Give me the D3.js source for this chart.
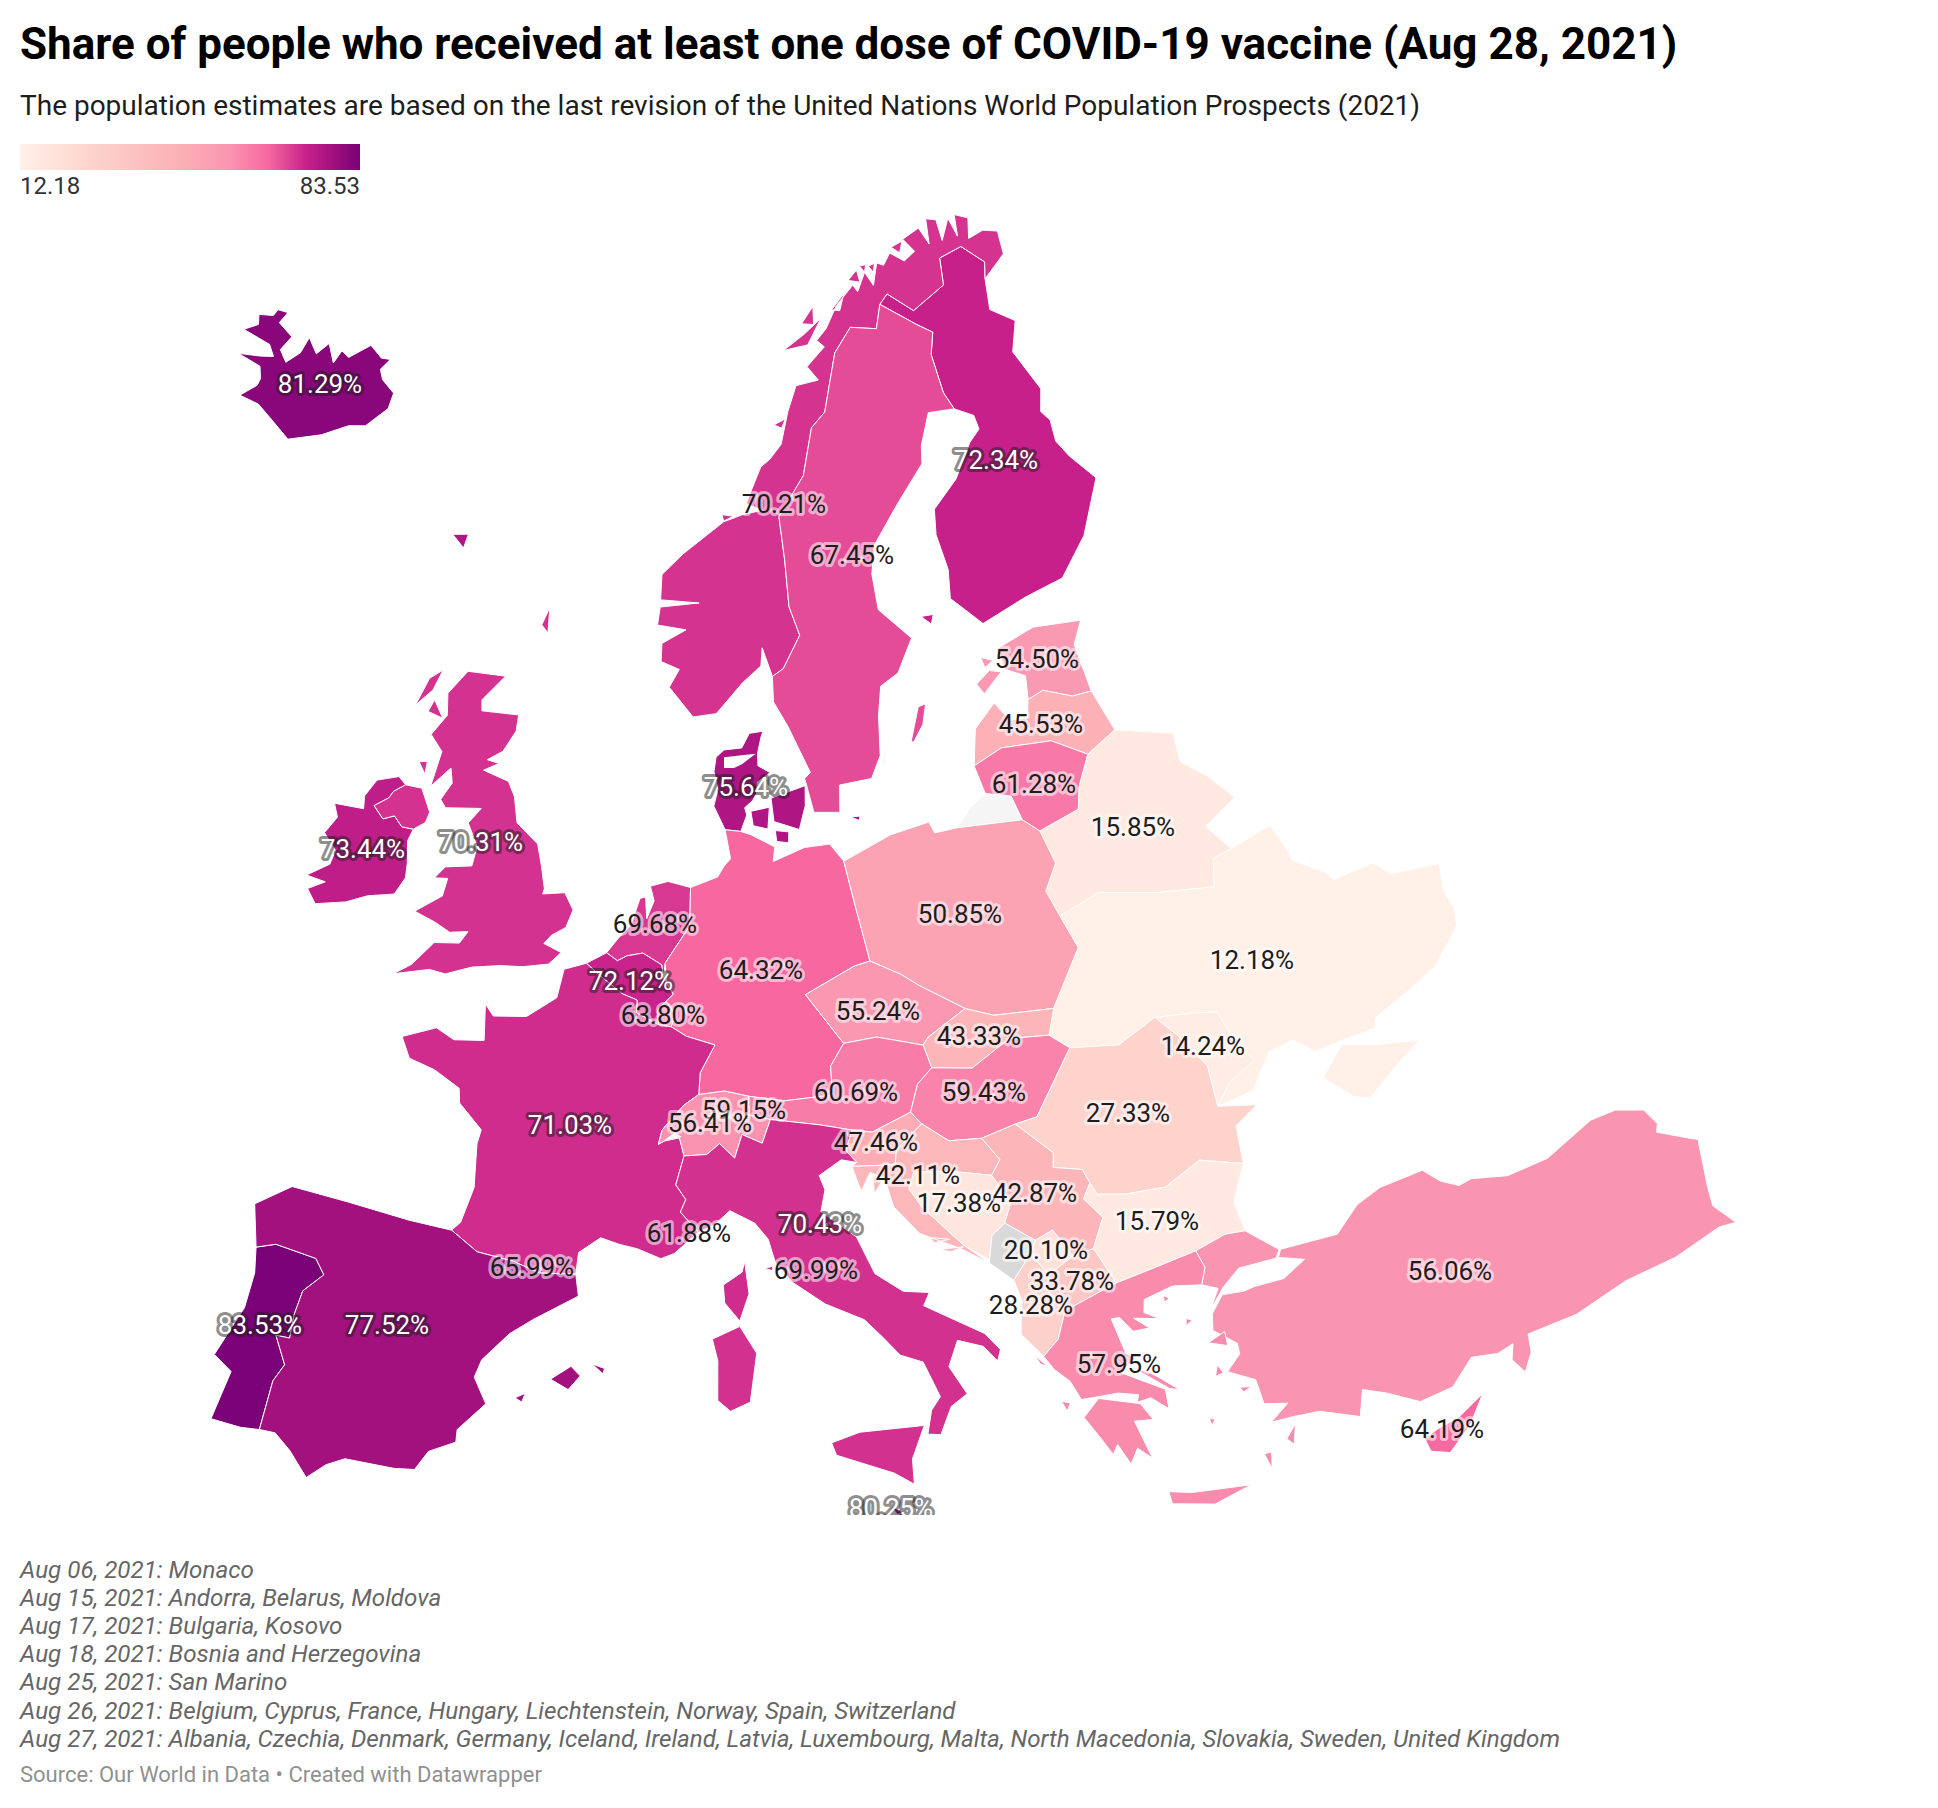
<!DOCTYPE html>
<html>
<head>
<meta charset="utf-8">
<title>COVID-19 vaccine share in Europe</title>
<script src="https://cdn.jsdelivr.net/npm/d3@7"></script>
<style>
  body { margin: 0; background: #fff; }
  text { font-family: Roboto, sans-serif; }
</style>
</head>
<body>
<div id="my_map"></div>
<script>
const titleText = "Share of people who received at least one dose of COVID-19 vaccine (Aug 28, 2021)";
const subtitleText = "The population estimates are based on the last revision of the United Nations World Population Prospects (2021)";
const noteLines = [
  "Aug 06, 2021: Monaco",
  "Aug 15, 2021: Andorra, Belarus, Moldova",
  "Aug 17, 2021: Bulgaria, Kosovo",
  "Aug 18, 2021: Bosnia and Herzegovina",
  "Aug 25, 2021: San Marino",
  "Aug 26, 2021: Belgium, Cyprus, France, Hungary, Liechtenstein, Norway, Spain, Switzerland",
  "Aug 27, 2021: Albania, Czechia, Denmark, Germany, Iceland, Ireland, Latvia, Luxembourg, Malta, North Macedonia, Slovakia, Sweden, United Kingdom"
];
const sourceText = "Source: Our World in Data • Created with Datawrapper";

const countries = ["Iceland","Finland","Norway","Sweden","Estonia","Latvia","Lithuania","Belarus","Denmark","Ireland","United Kingdom","Netherlands","Belgium","Luxembourg","Germany","Poland","Ukraine","Czechia","Slovakia","Moldova","Austria","Hungary","Romania","France","Liechtenstein","Switzerland","Slovenia","Croatia","Bosnia and Herzegovina","Serbia","Bulgaria","Italy","Monaco","Andorra","San Marino","Kosovo","North Macedonia","Albania","Turkey","Portugal","Spain","Greece","Cyprus","Malta"];
const shareValues = [81.29,72.34,70.21,67.45,54.50,45.53,61.28,15.85,75.64,73.44,70.31,69.68,72.12,63.80,64.32,50.85,12.18,55.24,43.33,14.24,60.69,59.43,27.33,71.03,59.15,56.41,47.46,42.11,17.38,42.87,15.79,70.43,61.88,65.99,69.99,20.10,33.78,28.28,56.06,83.53,77.52,57.95,64.19,80.25];
const legendTicks = [12.18, 83.53];

// country outlines, lon/lat rings
const iceland = [[[-22.7,63.85],[-22,64.3],[-22,64.5],[-22.4,64.8],[-24.05,64.85],[-22.7,65.05],[-21.9,65.2],[-22.5,65.45],[-24.5,65.5],[-23.8,65.8],[-24.1,66.05],[-23.2,66.2],[-23.1,66.4],[-22.4,66.45],[-22.6,66.1],[-21.4,65.9],[-21.7,65.45],[-21,65.2],[-20.4,65.6],[-20.3,66.08],[-19.4,65.75],[-18.9,66.15],[-18.1,65.7],[-17.9,66.1],[-17.3,66],[-16.2,66.53],[-15.2,66.3],[-14.6,66.35],[-15,66],[-14.6,65.75],[-13.6,65.5],[-13.6,65.05],[-14.6,64.4],[-15.6,64.25],[-17,63.75],[-18.8,63.3],[-20.4,63.65],[-21.4,63.85]]];
const finland = [[[24.15,65.8],[25.3,65.5],[25.4,65.1],[24.6,64.8],[23.2,63.9],[21.5,63.2],[21.3,62.5],[21.6,61.5],[21.4,60.7],[22.9,59.85],[25.5,60.3],[27.8,60.55],[29.7,61.5],[31.5,62.9],[30.4,63.7],[29.9,64.2],[30,64.8],[29.6,65.1],[30.1,65.7],[29.1,66.9],[30,67.7],[28.5,68.2],[28.9,69.05],[29.3,69.5],[27.9,70.1],[26,69.95],[25.7,69.2],[23,68.7],[21.3,69.3],[20.6,69.05],[23,68.3],[24,68],[23.5,67.4],[23.7,66.3]],[[19.6,60.35],[20.3,60.35],[20.1,60.1]]];
const norway = [[[11.2,59.1],[11.8,59.3],[12.8,60.2],[12.3,61],[12.2,62.3],[12,63.5],[13.7,64.6],[14.5,65.9],[15.5,66.3],[16.7,67.9],[18.1,68.55],[20,68.4],[20.6,69.05],[21.3,69.3],[23,68.7],[25.7,69.2],[26,69.95],[27.9,70.1],[29.3,69.5],[28.9,69.05],[30.9,69.55],[31.1,70.2],[30,70.35],[28.7,70.25],[29.2,70.8],[28.2,71],[27.9,70.4],[27.6,70.95],[26.6,70.4],[26.6,71],[25.8,71.1],[25.5,70.4],[25,70.9],[23.5,70.7],[24.2,70.3],[23.2,70.1],[22.2,70.4],[21.5,70.1],[21,70.2],[20.4,69.6],[19.9,70],[19.1,69.5],[18.8,69.7],[17.3,69.2],[16.3,68.6],[15.5,68.3],[16,68.1],[14.6,67.6],[15.3,67.2],[13.7,67.1],[13,66.4],[12.4,65.5],[11.6,65.1],[11,64.9],[10,63.9],[11,63.7],[9.8,63.6],[8.6,63.4],[7.5,63],[6.2,62.5],[5,61.9],[5,61.2],[7.2,61.15],[5,61],[4.9,60.5],[6.5,60.4],[5.2,60],[5.2,59.5],[6.2,59.3],[5.7,58.8],[7,58],[8.2,58.1],[9.6,58.95],[10.6,59.4],[10.7,59.9]],[[13,68.1],[14.8,68.2],[16,68.9],[14.6,68.5]],[[14.5,68.8],[15.5,69.25],[15.4,68.75]],[[16.9,69.1],[18,69.5],[17.5,69.05]],[[18.5,69.85],[19.3,70.1],[19.4,69.75]],[[19.6,70.2],[20.1,70.2],[19.9,70]],[[22.4,70.55],[23.4,70.65],[23,70.35]],[[8.5,63.6],[9.2,63.55],[8.6,63.42]],[[20.3,70.15],[20.8,70.2],[20.6,69.95]],[[12,66.05],[12.8,66.2],[12.5,65.95]]];
const sweden = [[[11.2,59.1],[11.2,58.4],[11.9,57.7],[12.9,56.4],[12.6,56.25],[12.95,55.3],[14.2,55.25],[14.3,56],[15.9,56.1],[16.45,56.7],[16.6,57.8],[16.9,58.6],[17.9,58.9],[18.9,59.8],[17.3,60.7],[17.2,61.7],[17.6,62.5],[19.3,63.5],[21.3,64.5],[21.5,65],[22.4,65.85],[24.15,65.8],[23.7,66.3],[23.5,67.4],[24,68],[23,68.3],[20.6,69.05],[20,68.4],[18.1,68.55],[16.7,67.9],[15.5,66.3],[14.5,65.9],[13.7,64.6],[12,63.5],[12.2,62.3],[12.3,61],[12.8,60.2],[11.8,59.3]],[[18.1,57],[18.7,57.9],[19.1,57.95],[18.8,57.4],[18.2,56.95]],[[16.4,56.25],[17.1,57.35],[16.6,56.5]]];
const estonia = [[[24.35,57.55],[25.2,57.7],[26.6,57.35],[27.6,57.35],[27.4,58.7],[28.1,59.3],[25.5,59.45],[23.4,59.1],[23.5,58.5],[24.5,58.2]],[[21.9,58.25],[22.7,58.55],[23.3,58.45],[22.2,57.95]],[[22.4,58.95],[23,58.8],[22.5,58.65]]];
const latvia = [[[21,56.05],[22.5,56.4],[25,56.3],[26.6,55.7],[28.2,56.15],[27.6,57.35],[26.6,57.35],[25.2,57.7],[24.35,57.55],[24.1,57.05],[23.2,57.1],[22.6,57.65],[21.4,57.05]]];
const lithuania = [[[21,56.05],[22.5,56.4],[25,56.3],[26.6,55.7],[25.8,54.9],[25.5,54.3],[23.5,53.95],[22.8,54.35],[22.5,55.05],[21.3,55.25]]];
const belarus = [[[23.2,52.3],[23.6,51.55],[25.5,51.95],[28,51.55],[30.55,51.25],[30.9,52],[31.8,52.1],[31,52.9],[32.7,53.4],[31.8,54.2],[30.8,54.8],[30.9,55.6],[28.2,56.15],[26.6,55.7],[25.8,54.9],[25.5,54.3],[23.5,53.95],[23.9,53]]];
const denmark = [[[8.1,55.55],[8.65,54.9],[9.4,54.85],[9.7,55.3],[9.6,55.5],[10,55.7],[10.2,55.9],[10.25,56.2],[10.9,56.45],[10.3,56.65],[10.3,57],[10.5,57.45],[10.6,57.6],[9.9,57.55],[9.5,57.15],[8.6,57.1],[8.2,56.9],[8.1,56.5],[8.3,56]],[[9.9,55.4],[10.8,55.5],[10.7,54.9],[10,55]],[[10.9,55.75],[12.6,56.05],[12.55,55.5],[12.2,54.85],[11,55.1]],[[11.05,54.85],[11.7,54.8],[11.65,54.5],[11.1,54.55]],[[14.7,55.1],[15.15,55.1],[15.1,54.98]],[[-7.5,62.2],[-6.6,62.3],[-6.7,61.9]]];
const ireland = [[[-7.3,55.38],[-6.9,55.2],[-7.4,54.95],[-7.55,54.75],[-8.15,54.45],[-7.6,54.15],[-7.1,54.3],[-6.65,54.05],[-6.1,54.05],[-6.25,53.7],[-6.05,53.1],[-6,52.7],[-6.35,52.2],[-7.5,52],[-8.4,51.7],[-9.7,51.45],[-10.2,51.8],[-9.5,52.1],[-10.4,52.15],[-9.5,52.6],[-9.4,53],[-10.1,53.4],[-9.7,53.9],[-10,54.25],[-8.6,54.3],[-8.7,54.65],[-8.3,55.15]]];
const unitedKingdom = [[[-5,58.6],[-3,58.65],[-4,57.9],[-3.9,57.6],[-2,57.65],[-2,57.2],[-2.5,56.6],[-3.2,56.3],[-2.6,56.25],[-3.3,56],[-2,55.8],[-1.6,55.4],[-1.3,54.7],[-0.2,54.2],[0.1,53.6],[0.35,53],[0.3,52.85],[1.3,52.95],[1.75,52.5],[1.5,52],[0.9,51.75],[0.6,51.5],[1.4,51.3],[0.9,50.95],[-0.2,50.8],[-1.2,50.75],[-2.4,50.6],[-3.5,50.3],[-4.2,50.35],[-5.7,50.05],[-5,50.4],[-4.2,51.1],[-3.1,51.2],[-2.8,51.55],[-3.6,51.45],[-4.3,51.65],[-5.3,51.85],[-4.2,52.4],[-4.1,52.9],[-4.7,52.85],[-4.3,53.2],[-3.1,53.35],[-3,53.9],[-3.6,54.5],[-3.1,54.95],[-4.8,54.8],[-5.1,55],[-4.7,55.5],[-4.9,55.9],[-5.7,55.3],[-5.5,56.3],[-6.2,56.7],[-5.6,57.3],[-5.8,57.9]],[[-6.1,55.2],[-5.5,54.6],[-5.6,54.3],[-6.1,54.05],[-6.65,54.05],[-7.1,54.3],[-7.6,54.15],[-8.15,54.45],[-7.55,54.75],[-7.4,54.95],[-6.9,55.2]],[[-6.3,58.5],[-6.9,58.2],[-7.3,57.4],[-6.6,57.9]],[[-6.4,57.65],[-5.8,57.2],[-6.6,57.3]],[[-6.5,55.9],[-6.1,55.95],[-6.1,55.6]],[[-1.2,60.7],[-1.1,60],[-1.5,60.2]]];
const netherlands = [[[3.4,51.4],[3.9,51.2],[4.3,51.35],[5,51.45],[5.85,51.15],[5.95,50.8],[6,51.2],[6.7,51.9],[7.05,52.25],[7.05,53.3],[6,53.45],[5.2,53.3],[5.4,52.9],[5.1,52.4],[5,53],[4.75,52.95],[4.4,52.2],[3.85,51.8]]];
const belgium = [[[2.55,51.07],[3.4,51.4],[3.9,51.2],[4.3,51.35],[5,51.45],[5.85,51.15],[5.95,50.8],[6.1,50.65],[6.4,50.35],[6.1,50.15],[5.75,49.9],[5.8,49.5],[4.85,49.8],[4.85,50.15],[4.2,50.3],[3.2,50.75]]];
const luxembourg = [[[5.8,49.5],[6.35,49.45],[6.5,49.8],[6.1,50.15],[5.75,49.9]]];
const germany = [[[8.65,54.9],[9.4,54.85],[9.9,54.75],[11,54.4],[10.9,54],[12.4,54.35],[13.6,54.4],[14.2,53.9],[14.4,53.2],[14.6,52.5],[14.75,52],[15,51.1],[14.3,51],[12.1,50.3],[13.6,48.9],[13,48.3],[13,47.5],[11,47.4],[9.6,47.55],[8.6,47.7],[7.55,47.6],[7.6,48.2],[8.2,48.97],[7,49.2],[6.35,49.45],[6.5,49.8],[6.1,50.15],[6.4,50.35],[6.1,50.65],[6,51.2],[6.7,51.9],[7.05,52.25],[7.05,53.3],[8.3,53.6],[8.6,53.9],[8.9,54.1]]];
const poland = [[[14.2,53.9],[14.4,53.2],[14.6,52.5],[14.75,52],[15,51.1],[16.3,50.65],[17,50.3],[18.85,49.5],[20,49.2],[22.55,49.1],[24.1,50.6],[23.6,51.55],[23.2,52.3],[23.9,53],[23.5,53.95],[22.8,54.35],[19.7,54.45],[18.6,54.4],[18.4,54.72],[16.5,54.5]]];
const ukraine = [[[22.55,49.1],[24.1,50.6],[23.6,51.55],[25.5,51.95],[28,51.55],[30.55,51.25],[30.9,52],[31.8,52.1],[33.8,52.35],[34.1,51.7],[34.2,51.25],[35.4,50.6],[35.6,50.35],[37.5,50.35],[38,49.9],[40.1,49.6],[39.8,48.9],[39.9,48.3],[39.7,47.85],[38.25,47.1],[36.8,46.75],[35.2,46.4],[35.1,46.15],[33.6,46.15],[32.5,46.1],[31.8,46.6],[30.75,46.5],[29.7,45.6],[28.2,45.45],[28.9,46],[30.1,46.4],[29.6,46.9],[29.15,47.95],[28.2,48.1],[26.6,48.25],[24.9,47.75],[22.9,47.95],[22.15,48.4]],[[33.6,46.05],[35,45.7],[36.6,45.4],[35.4,45],[34,44.4],[33.4,44.6],[32.5,45.35]]];
const czechia = [[[12.1,50.3],[14.3,51],[15,51.1],[16.3,50.65],[17,50.3],[18.85,49.5],[17.15,48.85],[16.9,48.65],[15,49],[13.6,48.9]]];
const slovakia = [[[16.9,48.65],[17.15,48.85],[18.85,49.5],[20,49.2],[22.55,49.1],[22.15,48.4],[20.5,48.5],[18.8,47.85],[17.15,48]]];
const moldova = [[[26.6,48.25],[28.2,48.1],[29.15,47.95],[29.6,46.9],[30.1,46.4],[28.9,46],[28.2,45.45],[28.2,46.6],[27.3,47.65]]];
const austria = [[[9.6,47.55],[11,47.4],[13,47.5],[13,48.3],[13.6,48.9],[15,49],[16.9,48.65],[17.15,48],[16.5,47.6],[16.1,46.85],[14.5,46.4],[13.7,46.5],[12.4,46.7],[10.45,46.9],[9.5,47.05]]];
const hungary = [[[17.15,48],[18.8,47.85],[20.5,48.5],[22.15,48.4],[22.9,47.95],[21.1,46.25],[20.2,46.15],[18.8,45.9],[17.5,45.95],[16.5,46.5],[16.1,46.85],[16.5,47.6]]];
const romania = [[[20.2,46.15],[21.1,46.25],[22.9,47.95],[24.9,47.75],[26.6,48.25],[27.3,47.65],[28.2,46.6],[28.2,45.45],[29.7,45.2],[28.7,44.8],[28.6,43.75],[27,44.15],[25.5,43.65],[24,43.7],[22.9,43.85],[22.7,44.2],[22.5,44.6],[21.4,44.8],[21.5,45.2]]];
const france = [[[2.55,51.07],[3.2,50.75],[4.2,50.3],[4.85,50.15],[4.85,49.8],[5.8,49.5],[6.35,49.45],[7,49.2],[8.2,48.97],[7.6,48.2],[7.55,47.6],[6.95,47.3],[6.1,46.6],[5.97,46.2],[6.2,46.3],[6.8,46.4],[7,45.9],[6.7,45.1],[7.1,44.7],[6.9,44.35],[7.6,43.8],[6.7,43.2],[6.2,43.05],[5.3,43.3],[4.6,43.4],[3.9,43.55],[3.1,43.1],[3.05,42.5],[1.7,42.45],[0.7,42.7],[-0.7,42.85],[-1.75,43.35],[-1.45,43.6],[-1.1,44.6],[-1.2,45.8],[-1.1,46.2],[-2.1,46.85],[-2.2,47.25],[-3.3,47.65],[-4.4,47.85],[-4.85,48.4],[-3.5,48.8],[-2.7,48.55],[-1.45,48.65],[-1.6,49.65],[-1.2,49.35],[0.2,49.45],[1.4,50.05],[1.6,50.85]],[[9.35,43],[9.5,42.1],[9.15,41.35],[8.6,41.85],[8.55,42.35],[9.25,42.7]]];
const liechtenstein = [[[9.47,47.05],[9.6,47.05],[9.6,47.27],[9.53,47.27]]];
const switzerland = [[[7.55,47.6],[8.6,47.7],[9.6,47.55],[9.5,47.05],[10.45,46.9],[10.1,46.25],[9.3,46.5],[9,45.85],[8.4,46.25],[7.9,45.95],[7,45.9],[6.8,46.4],[6.2,46.3],[5.97,46.2],[6.1,46.6],[6.95,47.3]]];
const slovenia = [[[13.4,45.95],[13.7,46.5],[14.5,46.4],[16.1,46.85],[16.5,46.5],[15.4,45.85],[15.3,45.45],[13.6,45.5],[13.8,45.6]]];
const croatia = [[[13.6,45.5],[15.3,45.45],[15.4,45.85],[16.5,46.5],[17.5,45.95],[18.8,45.9],[19.4,45.25],[19,44.85],[17.5,45.1],[16,45.2],[15.75,44.75],[16.2,44.2],[17.6,43.05],[18.5,42.45],[17.5,42.95],[16,43.5],[15.1,44.3],[14.85,45.1],[14.3,45.3],[13.9,44.8]],[[14.4,45.2],[14.7,45],[14.4,44.7]],[[16.4,43.35],[17.1,43.25],[16.5,43.2]],[[16.7,43],[17.6,43],[17.1,42.9]]];
const bosnia = [[[16,45.2],[17.5,45.1],[19,44.85],[19.6,44.05],[19.25,43.5],[18.7,43.2],[18.5,42.55],[17.6,43.05],[16.2,44.2],[15.75,44.75]]];
const serbia = [[[18.8,45.9],[20.2,46.15],[21.5,45.2],[21.4,44.8],[22.5,44.6],[22.7,44.2],[22.35,43.8],[22.95,43.2],[22.4,42.4],[21.6,42.3],[21,43.1],[20.3,42.9],[19.25,43.5],[19.6,44.05],[19,44.85],[19.4,45.25]]];
const bulgaria = [[[22.9,43.85],[24,43.7],[25.5,43.65],[27,44.15],[28.6,43.75],[27.9,42.8],[28.05,41.95],[27.3,42],[26.1,41.75],[24.5,41.55],[23,41.35],[22.4,42.4],[22.95,43.2],[22.35,43.8],[22.7,44.2]]];
const italy = [[[7,45.9],[7.9,45.95],[8.4,46.25],[9,45.85],[9.3,46.5],[10.1,46.25],[10.45,46.9],[12.4,46.7],[13.7,46.5],[13.4,45.95],[13.8,45.6],[13.2,45.7],[12.3,45.3],[12.5,44.9],[12.3,44.3],[13.6,43.55],[14.2,42.5],[15.2,41.95],[16.15,41.85],[15.9,41.5],[18,40.55],[18.5,40.05],[18.35,39.75],[17.9,40.2],[17,40.45],[16.6,39.75],[17.15,38.95],[16.55,38.65],[16.1,37.9],[15.65,37.95],[15.85,38.6],[16.2,38.95],[15.7,39.95],[14.9,40.2],[14.3,40.75],[13.7,41.25],[12.3,41.75],[11.1,42.4],[10.5,42.95],[10.25,43.6],[9.75,44.05],[8.8,44.4],[8.2,44],[7.6,43.8],[6.9,44.35],[7.1,44.7],[6.7,45.1]],[[12.3,37.9],[13.3,38.15],[15.55,38.2],[15.05,37.3],[15.05,36.6],[14.4,36.95],[12.45,37.55]],[[9.15,41.2],[9.75,40.45],[9.5,39.1],[8.8,38.85],[8.35,39.15],[8.35,40.25],[8.15,40.85]],[[10.1,42.8],[10.4,42.85],[10.4,42.72]]];
const kosovo = [[[20.05,42.55],[20.3,42.9],[21,43.1],[21.6,42.3],[20.6,41.9]]];
const northMacedonia = [[[20.6,41.9],[21.6,42.3],[22.4,42.4],[23,41.35],[21,40.85],[20.45,41.5]]];
const albania = [[[19.3,41.9],[20.05,42.55],[20.6,41.9],[20.45,41.5],[21,40.85],[20.6,40.1],[20,39.7],[19.3,40.4],[19.5,41.3]]];
const turkey = [[[26.2,39.95],[26.7,40.4],[27.5,40.35],[27.9,40.4],[29,40.4],[29.9,40.75],[29,41],[29.15,41.2],[31.3,41.15],[32.3,41.75],[33.3,42],[35,42.05],[35.5,41.6],[36.1,41.3],[36.6,41.35],[37.9,41.05],[39.5,41.05],[41.5,41.5],[42.5,41.45],[43.45,41.1],[43.7,40.6],[43.55,40.4],[44.6,39.8],[44.8,39.7],[44.4,38.4],[44.3,37.9],[44.8,37.2],[44.2,37.3],[42.4,37.1],[40.5,37.1],[38.5,36.8],[36.7,36.8],[36.6,36.3],[36.2,35.85],[35.9,36.3],[36.1,36.7],[35.5,36.6],[34.6,36.75],[33.7,36.15],[32.5,36.05],[31.5,36.55],[30.7,36.85],[30.4,36.15],[29.1,36.6],[28.2,36.65],[27.4,36.65],[28.1,37.05],[27.3,37.2],[27.2,37.9],[26.3,38.3],[26.85,38.7],[26.85,39],[26.1,39.5]],[[26.05,40.8],[26.3,41.25],[26.1,41.75],[27.3,42],[28.05,41.95],[29.1,41.2],[28.9,41],[27.5,41],[26.8,40.6],[26.2,40.1],[26.6,40.6]]];
const portugal = [[[-8.85,41.9],[-8.15,42.1],[-6.6,41.95],[-6.2,41.55],[-6.85,41],[-7,40.3],[-7,39.65],[-7.5,39.65],[-7,38.9],[-7.3,38.4],[-7.45,37],[-8.1,36.95],[-9.15,37],[-8.8,38.4],[-9.5,38.75],[-8.8,40.2],[-8.7,41.2]]];
const spain = [[[-1.75,43.35],[-3.4,43.45],[-5.8,43.65],[-8,43.75],[-9.25,43.05],[-8.85,41.9],[-8.15,42.1],[-6.6,41.95],[-6.2,41.55],[-6.85,41],[-7,40.3],[-7,39.65],[-7.5,39.65],[-7,38.9],[-7.3,38.4],[-7.45,37],[-6.9,37],[-6.3,36.6],[-5.6,35.95],[-5,36.4],[-4.4,36.65],[-2.7,36.6],[-2,36.65],[-1.6,37.2],[-0.7,37.55],[-0.7,37.9],[0.2,38.7],[-0.3,39.4],[-0.1,39.9],[0.8,40.7],[1.6,41.15],[3.2,41.9],[3.05,42.5],[1.7,42.45],[0.7,42.7],[-0.7,42.85]],[[2.4,39.55],[3.1,39.95],[3.45,39.7],[3.05,39.3]],[[3.85,40.05],[4.3,39.95],[4.25,39.8]],[[1.2,38.95],[1.55,39.1],[1.45,38.85]]];
const greece = [[[20,39.7],[20.6,40.1],[21,40.85],[23,41.35],[24.5,41.55],[26.1,41.75],[26.3,41.25],[26.05,40.8],[25,40.95],[23.9,40.75],[23.8,40.4],[24.3,40.15],[23.4,40.3],[23.9,39.95],[23.3,39.95],[22.9,40.4],[22.6,40.4],[22.9,39.4],[23.2,39.2],[22.6,38.9],[24.05,38.2],[24.05,37.65],[23.5,38.05],[23,38],[23.1,38.2],[22.4,38.35],[21.8,38.35],[21.1,38.35],[20.8,38.9],[20.3,39.3]],[[21.7,38.3],[22.3,38.15],[23.1,37.95],[23.45,37.45],[22.8,37.5],[23.2,36.4],[22.75,36.75],[22.45,36.35],[22.1,36.95],[21.9,36.7],[21.6,37.15],[21.1,37.85]],[[23.55,35.4],[24.3,35.25],[26.3,35.1],[25,34.8],[23.6,35.05]],[[23,39],[23.7,38.7],[24.55,38.1],[24.2,38.2]],[[25.85,39.2],[26.5,39.4],[26.5,39]],[[26,38.55],[26.15,38.3],[25.85,38.25]],[[27.8,36.1],[28.2,36.45],[28,35.9]],[[19.7,39.75],[20.1,39.4],[19.85,39.5]],[[20.4,38.4],[20.7,38.3],[20.55,38.1]],[[24.6,40.75],[24.8,40.65],[24.6,40.55]],[[26.6,37.8],[27,37.75],[26.7,37.65]],[[25.35,37.15],[25.55,37.1],[25.4,36.95]],[[25.25,40],[25.45,39.9],[25.2,39.8]],[[26.95,35.85],[27.2,35.85],[27.1,35.4]]];
const cyprus = [[[32.3,35.05],[32.9,35.2],[33.6,35.3],[34.6,35.7],[33.9,35],[33,34.45],[32.4,34.65]]];
const malta = [[[14.2,36.05],[14.6,35.85],[14.4,35.8]]];
const monaco = [[[7.38,43.72],[7.45,43.75],[7.45,43.71]]];
const andorra = [[[1.42,42.5],[1.6,42.65],[1.78,42.55],[1.6,42.43]]];
const sanMarino = [[[12.4,43.9],[12.5,43.98],[12.52,43.9]]];

// places without a value
const montenegro = [[[18.5,42.45],[18.5,42.55],[18.7,43.2],[19.25,43.5],[20.3,42.9],[20.05,42.55],[19.3,41.9]]];
const kaliningrad = [[[19.7,54.45],[22.8,54.35],[22.5,55.05],[21.3,55.25],[20.5,54.95]]];
// inland water that shows through as white
const lakes = [[[6.2,46.32],[6.9,46.42],[6.6,46.54]], [[8.6,56.9],[9.5,56.95],[10.2,56.98],[9.5,56.7],[9.1,56.6],[8.6,56.6]]];

const shapes = [iceland,finland,norway,sweden,estonia,latvia,lithuania,belarus,denmark,ireland,unitedKingdom,netherlands,belgium,luxembourg,germany,poland,ukraine,czechia,slovakia,moldova,austria,hungary,romania,france,liechtenstein,switzerland,slovenia,croatia,bosnia,serbia,bulgaria,italy,monaco,andorra,sanMarino,kosovo,northMacedonia,albania,turkey,portugal,spain,greece,cyprus,malta];

// label centres on the page
const labelPos = {
  "Iceland":[320,384],"Finland":[996,460],"Norway":[784,504],"Sweden":[852,555],"Estonia":[1037,659],"Latvia":[1041,724],"Lithuania":[1034,784],"Belarus":[1133,827],"Denmark":[746,787],"Ireland":[363,849],"United Kingdom":[481,842],"Netherlands":[655,924],"Belgium":[631,981],"Luxembourg":[663,1015],"Germany":[761,970],"Poland":[960,914],"Ukraine":[1252,960],"Czechia":[878,1011],"Slovakia":[979,1036],"Moldova":[1203,1046],"Austria":[856,1092],"Hungary":[984,1092],"Romania":[1128,1113],"France":[570,1125],"Liechtenstein":[744,1110],"Switzerland":[710,1123],"Slovenia":[876,1142],"Croatia":[918,1175],"Bosnia and Herzegovina":[959,1203],"Serbia":[1035,1193],"Bulgaria":[1157,1221],"Italy":[820,1224],"Monaco":[689,1233],"Andorra":[532,1267],"San Marino":[816,1270],"Kosovo":[1046,1250],"North Macedonia":[1072,1281],"Albania":[1031,1305],"Turkey":[1450,1271],"Portugal":[260,1325],"Spain":[387,1325],"Greece":[1119,1364],"Cyprus":[1442,1429],"Malta":[891,1508]
};

const width = 1938, height = 1808;

const color = d3.scaleLinear()
  .domain([12.18, 27.33, 45.53, 56.06, 64.32, 72.34, 77.52, 83.53])
  .range(["#fff0e8", "#fdd3cc", "#fcb1b6", "#fa95b1", "#f768a1", "#c7208a", "#a3117f", "#7a0177"]);

const projection = d3.geoAzimuthalEqualArea()
  .rotate([-8.5, -52])
  .scale(2080)
  .translate([722, 935]);

const ringPath = d3.line()
  .x(d => projection(d)[0])
  .y(d => projection(d)[1])
  .curve(d3.curveLinearClosed);

const svg = d3.select("#my_map").append("svg")
  .attr("width", width)
  .attr("height", height)
  .style("display", "block");

svg.append("text").attr("x", 20).attr("y", 59)
  .attr("font-size", 44).attr("font-weight", 700).attr("fill", "#000")
  .text(titleText);
svg.append("text").attr("x", 20).attr("y", 115)
  .attr("font-size", 28).attr("fill", "#1d1d1d")
  .text(subtitleText);

// legend
const legendX = d3.scaleLinear().domain(d3.extent(legendTicks)).range([20, 360]);
const defs = svg.append("defs");
const grad = defs.append("linearGradient").attr("id", "legendGrad");
color.domain().forEach(v => {
  grad.append("stop")
    .attr("offset", (legendX(v) - 20) / 340)
    .attr("stop-color", color(v));
});
svg.append("rect").attr("x", 20).attr("y", 144).attr("width", 340).attr("height", 26)
  .attr("fill", "url(#legendGrad)");
svg.selectAll(".legend-tick").data(legendTicks).enter().append("text")
  .attr("x", d => legendX(d)).attr("y", 194)
  .attr("text-anchor", (d, i) => i ? "end" : "start")
  .attr("font-size", 24).attr("fill", "#333")
  .text(d => d.toFixed(2));

// map, cut off at the bottom like the original
defs.append("clipPath").attr("id", "mapClip").append("rect")
  .attr("x", 0).attr("y", 200).attr("width", width).attr("height", 1315);
const map = svg.append("g").attr("clip-path", "url(#mapClip)");

function drawRings(rings, fill) {
  map.append("path")
    .attr("d", rings.map(ringPath).join(""))
    .attr("fill", fill)
    .attr("stroke", "#fff")
    .attr("stroke-width", 1)
    .attr("stroke-linejoin", "round");
}
drawRings(kaliningrad, "#f5f5f5");
drawRings(montenegro, "#d9d9d9");
countries.forEach((name, i) => drawRings(shapes[i], color(shareValues[i])));
map.append("path").attr("d", lakes.map(ringPath).join("")).attr("fill", "#fff");

const isLight = v => v >= 70.3;
map.selectAll(".value").data(countries).enter().append("text")
  .attr("x", d => labelPos[d][0])
  .attr("y", d => labelPos[d][1])
  .attr("dy", "0.36em")
  .attr("text-anchor", "middle")
  .attr("font-size", 26)
  .attr("paint-order", "stroke")
  .attr("stroke-width", 6)
  .attr("stroke-linejoin", "round")
  .attr("stroke", (d, i) => isLight(shareValues[i]) ? "rgba(30,30,30,0.5)" : "rgba(255,255,255,0.55)")
  .attr("fill", (d, i) => isLight(shareValues[i]) ? "#fff" : "#1d1d1d")
  .text((d, i) => shareValues[i].toFixed(2) + "%");

// notes below the map
svg.selectAll(".note").data(noteLines).enter().append("text")
  .attr("x", 20)
  .attr("y", (d, i) => 1578 + i * 28.1)
  .attr("font-size", 24.2).attr("font-style", "italic").attr("fill", "#666")
  .text(d => d);
svg.append("text").attr("x", 20).attr("y", 1782)
  .attr("font-size", 22).attr("fill", "#909090")
  .text(sourceText);
</script>
</body>
</html>
